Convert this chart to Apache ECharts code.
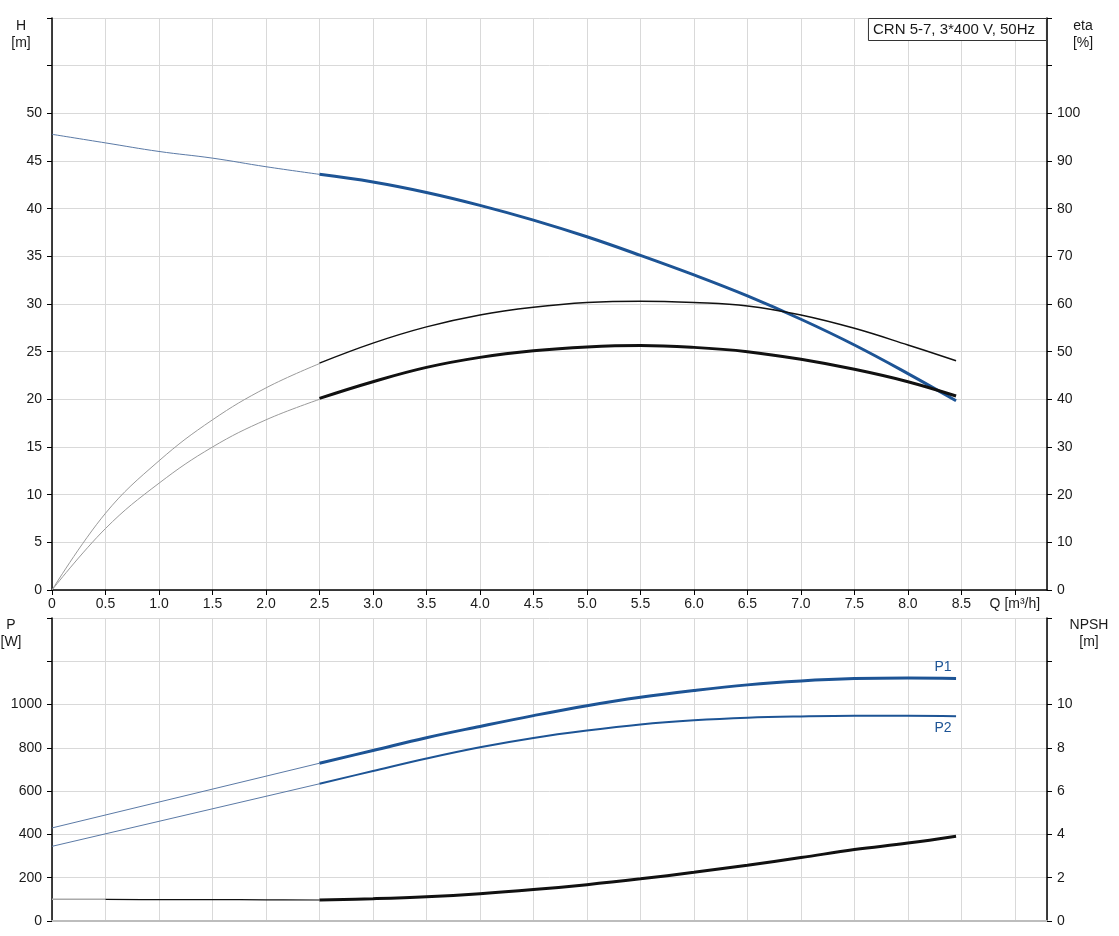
<!DOCTYPE html>
<html>
<head>
<meta charset="utf-8">
<script src="https://cdn.jsdelivr.net/npm/echarts@6/dist/echarts.min.js"></script>
<style>
  html, body { margin: 0; padding: 0; background: #fff; }
  #chart { width: 1119px; height: 936px; }
</style>
</head>
<body>
<div id="chart"></div>
<script>
// ---- Data ----
const TITLE = 'CRN 5-7, 3*400 V, 50Hz';
const Q_LOW  = [0, 0.5, 1.0, 1.5, 2.0, 2.5];
const Q_HIGH = [2.5, 3.0, 3.5, 4.0, 4.5, 5.0, 5.5, 6.0, 6.5, 7.0, 7.5, 8.0, 8.45];
const Q_LINE = [0, 2.5];

// Head H [m]
const H_LOW  = [47.8, 46.9, 46.0, 45.3, 44.4, 43.6];
const H_HIGH = [43.6, 42.8, 41.7, 40.35, 38.8, 37.05, 35.1, 33.05, 30.85, 28.4, 25.7, 22.7, 19.85];

// Efficiency eta [%] (upper = pump, lower = total)
const ETA1_LOW  = [0, 16.1, 27.1, 35.7, 42.4, 47.5];
const ETA1_HIGH = [47.6, 51.8, 55.2, 57.7, 59.3, 60.3, 60.6, 60.3, 59.6, 57.7, 54.9, 51.4, 48.1];
const ETA2_LOW  = [0, 12.9, 22.4, 30.0, 35.7, 40.0];
const ETA2_HIGH = [40.2, 43.7, 46.7, 48.8, 50.2, 51.0, 51.3, 50.9, 50.0, 48.4, 46.3, 43.7, 40.7];

// Power P [W]
const P1_LINE = [430, 729];
const P1_HIGH = [729, 788, 847, 899, 949, 995, 1034, 1065, 1091, 1109, 1120, 1123, 1121];
const P2_LINE = [345, 634];
const P2_HIGH = [634, 693, 751, 803, 846, 880, 908, 927, 939, 945, 948, 948, 946];
const P_LABELS = ['P1', 'P2'];

// NPSH [m]
const Q_NPSH_A = [0, 0.5];
const NPSH_A   = [1.0, 1.0];
const Q_NPSH_B = [0.5, 1.0, 1.5, 2.0, 2.5];
const NPSH_B   = [1.0, 0.99, 0.99, 0.98, 0.97];
const NPSH_HIGH = [0.97, 1.03, 1.12, 1.26, 1.45, 1.68, 1.95, 2.25, 2.58, 2.93, 3.3, 3.6, 3.92];

// Axis tick settings
const X_TICKS = { min: 0, max: 9.3, interval: 0.5 };
const H_AXIS = { min: 0, max: 60, interval: 5, lastLabel: 50 };
const ETA_AXIS = { min: 0, max: 120, interval: 10, lastLabel: 100 };
const P_AXIS = { min: 0, max: 1400, interval: 200, lastLabel: 1000 };
const NPSH_AXIS = { min: 0, max: 14, interval: 2, lastLabel: 10 };
const Q_UNIT_LABEL = 'Q [m³/h]';

// ---- Chart ----
const FONT = "'Liberation Sans', Arial, sans-serif";
const BLUE = '#1d5495';
const BLUE_THIN = '#5b7aa6';
const GRID = '#d9d9d9';
const TXT = '#1a1a1a';

function zip(xs, ys) { return xs.map((x, i) => [x, ys[i]]); }

function yAx(gridIndex, pos, cfg, split) {
  return {
    type: 'value', gridIndex, position: pos,
    min: cfg.min, max: cfg.max, interval: cfg.interval,
    axisLine: { show: true, lineStyle: { color: '#000', width: 1.5 } },
    axisTick: { show: true, length: 5, lineStyle: { color: '#000' } },
    axisLabel: {
      color: TXT, fontFamily: FONT, fontSize: 14, margin: 10,
      formatter: v => (v > cfg.lastLabel + 1e-9 ? '' : String(v))
    },
    splitLine: { show: split, lineStyle: { color: GRID, width: 1 } }
  };
}

function line(name, xi, yi, xs, ys, color, width, extra) {
  return Object.assign({
    name, type: 'line', xAxisIndex: xi, yAxisIndex: yi,
    data: zip(xs, ys), showSymbol: false, symbol: 'none',
    smooth: 0.4,
    lineStyle: { color, width }, itemStyle: { color },
    animation: false, silent: true, z: 3
  }, extra || {});
}

function endLbl(text, dy) {
  return {
    endLabel: {
      show: true, formatter: text, color: BLUE, fontFamily: FONT, fontSize: 14,
      align: 'center', verticalAlign: 'middle', distance: 0, offset: [-13, dy]
    }
  };
}

const chart = echarts.init(document.getElementById('chart'), null, { renderer: 'canvas' });

chart.setOption({
  backgroundColor: '#fff',
  animation: false,
  textStyle: { fontFamily: FONT },
  title: {
    text: TITLE, right: 72, top: 18,
    backgroundColor: '#fff', borderColor: '#333', borderWidth: 1,
    padding: [4, 12, 4, 5],
    textStyle: { fontFamily: FONT, fontSize: 15, fontWeight: 'normal', color: TXT }
  },
  grid: [
    { left: 52, right: 72, top: 18, height: 572 },
    { left: 52, right: 72, top: 618, height: 303 }
  ],
  xAxis: [
    {
      type: 'value', gridIndex: 0, min: X_TICKS.min, max: X_TICKS.max, interval: X_TICKS.interval,
      axisLine: { show: true, onZero: false, lineStyle: { color: '#000', width: 1.5 } },
      axisTick: { show: true, length: 5, lineStyle: { color: '#000' } },
      axisLabel: {
        color: TXT, fontFamily: FONT, fontSize: 14, margin: 7, showMaxLabel: false,
        formatter: v => {
          if (Math.abs(v - 9) < 1e-9) return Q_UNIT_LABEL;
          if (Math.abs(v * 2 - Math.round(v * 2)) > 1e-9) return '';
          return v === 0 ? '0' : v.toFixed(1);
        }
      },
      splitLine: { show: true, lineStyle: { color: GRID, width: 1 } }
    },
    {
      type: 'value', gridIndex: 1, min: X_TICKS.min, max: X_TICKS.max, interval: X_TICKS.interval,
      axisLine: { show: true, onZero: false, lineStyle: { color: '#bdbdbd', width: 2 } },
      axisTick: { show: false },
      axisLabel: { show: false },
      splitLine: { show: true, lineStyle: { color: GRID, width: 1 } }
    }
  ],
  yAxis: [
    yAx(0, 'left', H_AXIS, true),
    yAx(0, 'right', ETA_AXIS, false),
    yAx(1, 'left', P_AXIS, true),
    yAx(1, 'right', NPSH_AXIS, false)
  ],
  graphic: [
    { type: 'text', x: 21, y: 35, style: { text: 'H\n[m]', fill: TXT, font: '14px ' + FONT, textAlign: 'center', textVerticalAlign: 'middle', lineHeight: 17 } },
    { type: 'text', x: 1083, y: 35, style: { text: 'eta\n[%]', fill: TXT, font: '14px ' + FONT, textAlign: 'center', textVerticalAlign: 'middle', lineHeight: 17 } },
    { type: 'text', x: 11, y: 634, style: { text: 'P\n[W]', fill: TXT, font: '14px ' + FONT, textAlign: 'center', textVerticalAlign: 'middle', lineHeight: 17 } },
    { type: 'text', x: 1089, y: 634, style: { text: 'NPSH\n[m]', fill: TXT, font: '14px ' + FONT, textAlign: 'center', textVerticalAlign: 'middle', lineHeight: 17 } }
  ],
  series: [
    line('H low', 0, 0, Q_LOW, H_LOW, BLUE_THIN, 1),
    line('H', 0, 0, Q_HIGH, H_HIGH, BLUE, 3),
    line('eta1 low', 0, 1, Q_LOW, ETA1_LOW, '#9a9a9a', 1),
    line('eta1', 0, 1, Q_HIGH, ETA1_HIGH, '#111', 1.5),
    line('eta2 low', 0, 1, Q_LOW, ETA2_LOW, '#9a9a9a', 1),
    line('eta2', 0, 1, Q_HIGH, ETA2_HIGH, '#111', 3),
    line('P1 low', 1, 2, Q_LINE, P1_LINE, BLUE_THIN, 1, { smooth: false }),
    line('P1', 1, 2, Q_HIGH, P1_HIGH, BLUE, 3, endLbl(P_LABELS[0], -11)),
    line('P2 low', 1, 2, Q_LINE, P2_LINE, BLUE_THIN, 1, { smooth: false }),
    line('P2', 1, 2, Q_HIGH, P2_HIGH, BLUE, 2, endLbl(P_LABELS[1], 12)),
    line('NPSH a', 1, 3, Q_NPSH_A, NPSH_A, '#aaaaaa', 1.5, { smooth: false }),
    line('NPSH b', 1, 3, Q_NPSH_B, NPSH_B, '#111', 1.2),
    line('NPSH', 1, 3, Q_HIGH, NPSH_HIGH, '#111', 3)
  ]
});
</script>
</body>
</html>
